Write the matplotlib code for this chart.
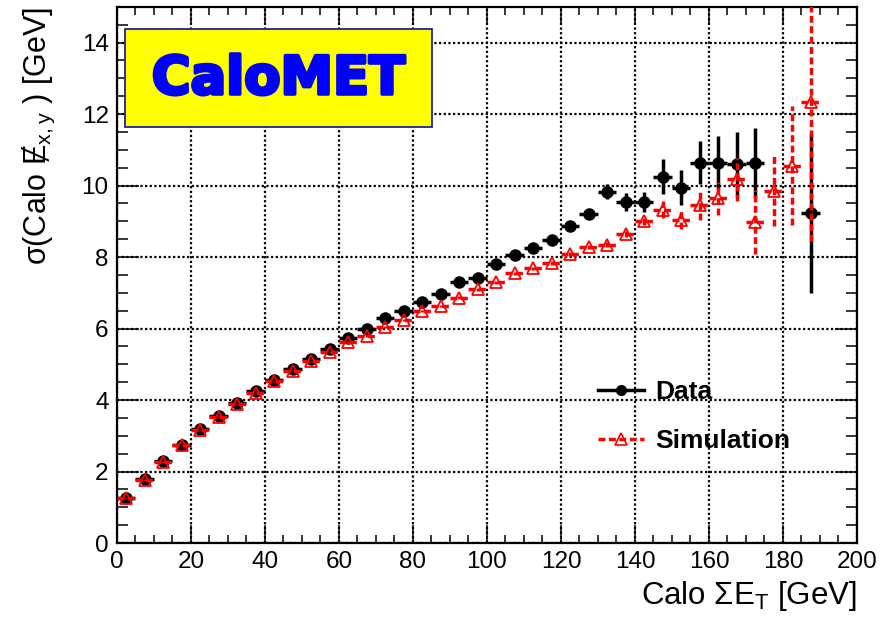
import numpy as np
import matplotlib.pyplot as plt
from matplotlib.patches import Rectangle
from matplotlib.lines import Line2D
import matplotlib.patheffects as pe

plt.rcParams['font.family'] = ['Liberation Sans', 'DejaVu Sans']
plt.rcParams['mathtext.fontset'] = 'custom'
plt.rcParams['mathtext.rm'] = 'Liberation Sans'

# bin centres (5 GeV bins) and widths
sumet = np.arange(2.5, 190, 5.0)
half_bin = 2.5

# measured resolution, no entries in the 175-185 GeV bins
data_sig = [1.27, 1.78, 2.29, 2.75, 3.18, 3.56, 3.91, 4.24, 4.56, 4.86,
            5.15, 5.44, 5.73, 6.00, 6.29, 6.48, 6.75, 6.98, 7.31, 7.41,
            7.80, 8.06, 8.26, 8.47, 8.87, 9.20, 9.83, 9.55, 9.55, 10.25,
            9.94, 10.64, 10.64, 10.59, 10.64, np.nan, np.nan, 9.22]
data_err = [0.03, 0.03, 0.03, 0.03, 0.03, 0.03, 0.03, 0.03, 0.03, 0.03,
            0.03, 0.04, 0.04, 0.04, 0.04, 0.05, 0.05, 0.05, 0.06, 0.06,
            0.07, 0.07, 0.08, 0.08, 0.09, 0.11, 0.2, 0.25, 0.28, 0.5,
            0.49, 0.6, 0.75, 0.9, 0.98, np.nan, np.nan, 2.23]

mc_sig = [1.25, 1.76, 2.27, 2.73, 3.15, 3.53, 3.88, 4.21, 4.52, 4.82,
          5.08, 5.33, 5.61, 5.80, 6.05, 6.25, 6.48, 6.64, 6.86, 7.10,
          7.29, 7.54, 7.68, 7.83, 8.08, 8.29, 8.34, 8.65, 9.01, 9.33,
          9.04, 9.45, 9.64, 10.17, 8.98, 9.86, 10.56, 12.34]
mc_err = [0.02, 0.02, 0.02, 0.02, 0.02, 0.02, 0.02, 0.02, 0.02, 0.02,
          0.02, 0.02, 0.03, 0.03, 0.03, 0.03, 0.03, 0.03, 0.04, 0.04,
          0.04, 0.05, 0.05, 0.05, 0.06, 0.06, 0.07, 0.08, 0.12, 0.23,
          0.25, 0.4, 0.47, 0.6, 0.9, 1.0, 1.67, 3.9]

fig = plt.figure(figsize=(8.83, 6.22), dpi=100)
ax = fig.add_axes([0.1325, 0.127, 0.838, 0.862])

ax.errorbar(sumet, data_sig, xerr=half_bin, yerr=data_err, fmt='o', color='black',
            ms=8, elinewidth=2.5, capsize=0, zorder=3)
mc = ax.errorbar(sumet, mc_sig, xerr=half_bin, yerr=mc_err, fmt='^', color='red',
                 mfc='none', mec='red', mew=1.3, ms=9, elinewidth=2.5, capsize=0, zorder=4)
for lc in mc[2]:
    lc.set_linestyle((0, (2, 1)))

ax.set_xlim(0, 200)
ax.set_ylim(0, 15)
ax.set_xticks(np.arange(0, 201, 20))
ax.set_xticks(np.arange(0, 201, 5), minor=True)
ax.set_yticks(np.arange(0, 15, 2))
ax.set_yticks(np.arange(0, 15.01, 0.5), minor=True)

ax.grid(True, which='major', color='black', linestyle=(0, (1, 1.1)), linewidth=1.6)
ax.set_axisbelow(True)

for s in ax.spines.values():
    s.set_linewidth(1.6)
ax.tick_params(which='both', direction='in', top=True, right=True, width=1.1,
               labelsize=17.5, colors='black')
ax.tick_params(axis='x', which='major', length=13, pad=6)
ax.tick_params(axis='x', which='minor', length=6)
ax.tick_params(axis='y', which='major', length=16, pad=6)
ax.tick_params(axis='y', which='minor', length=8)

ax.set_xlabel(r'Calo ΣE$_{\mathrm{T}}$ [GeV]', fontsize=22.5, loc='right', labelpad=4)
ax.set_ylabel(r'σ(Calo Ɇ$_{\mathrm{x,y}}$ ) [GeV]', fontsize=22, loc='top', labelpad=18)

# title box
ax.add_patch(Rectangle((2.2, 11.63), 82.9, 2.76, facecolor='yellow',
                       edgecolor='#2020a0', linewidth=1.3, zorder=5))
ax.text(43.6, 12.98, 'CaloMET', color='blue', fontsize=38, fontweight='bold',
        family='DejaVu Sans', ha='center', va='center', zorder=6,
        path_effects=[pe.withStroke(linewidth=2.5, foreground='blue')])

handles = [Line2D([], [], color='black', lw=2.5, marker='o', ms=7),
           Line2D([], [], color='red', lw=2.5, ls=(0, (2, 1)), marker='^', ms=8,
                  mfc='none', mec='red', mew=1.2)]
ax.legend(handles, ['Data', 'Simulation'], loc='upper left',
          bbox_to_anchor=(0.618, 0.348), frameon=False,
          prop={'size': 19, 'weight': 'bold'}, handlelength=1.75,
          handletextpad=0.4, labelspacing=0.95)

fig.savefig('out.png', dpi=100)
